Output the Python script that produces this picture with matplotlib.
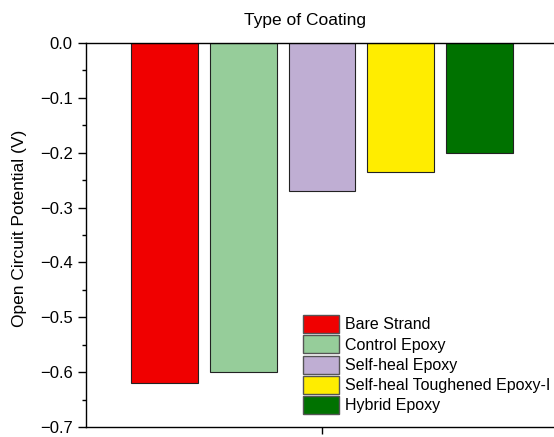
import numpy as np
import matplotlib.pyplot as plt
from matplotlib.ticker import MultipleLocator
from matplotlib.patches import Patch

plt.rcParams['font.family'] = ['Liberation Sans', 'DejaVu Sans']

coatings = ["Bare Strand", "Control Epoxy", "Self-heal Epoxy",
            "Self-heal Toughened Epoxy-I", "Hybrid Epoxy"]
ocp = [-0.62, -0.60, -0.27, -0.235, -0.20]
colors = ["#F00000", "#96CD9A", "#BFAED3", "#FFED00", "#007200"]

fig = plt.figure(figsize=(5.54, 4.37), dpi=100)
# axes run a little past the right edge of the figure
ax = fig.add_axes([0.1552, 0.0229, 0.852, 0.8787])

x = np.arange(1, len(ocp) + 1)
ax.bar(x, ocp, width=0.85, color=colors, edgecolor="#222222", linewidth=0.8)

ax.set_xlim(0, 6)
ax.set_ylim(-0.7, 0.0)
ax.yaxis.set_major_locator(MultipleLocator(0.1))
ax.yaxis.set_minor_locator(MultipleLocator(0.05))
ax.set_xticks([3])
ax.set_xticklabels([""])
ax.tick_params(axis="y", which="major", direction="out", length=6, width=1,
               labelsize=12, pad=3.5)
ax.tick_params(axis="y", which="minor", direction="out", length=3, width=1)
ax.tick_params(axis="x", direction="out", length=5, width=1)
ax.yaxis.set_major_formatter(plt.FuncFormatter(lambda v, p: f"{v:.1f}".replace("-", "\u2212")))
for s in ax.spines.values():
    s.set_linewidth(1.0)

fig.text(20 / 554, 1 - 228 / 437, "Open Circuit Potential (V)", rotation=90,
         ha="center", va="center", fontsize=12.5)
fig.text(305 / 554, 1 - 20 / 437, "Type of Coating", ha="center", va="center",
         fontsize=12.5)

handles = [Patch(facecolor=c, edgecolor="#555555", linewidth=1) for c in colors]
ax.legend(handles, coatings, loc="upper left",
          bbox_to_anchor=(303 / 554, 1 - 315 / 437), bbox_transform=fig.transFigure,
          frameon=False, fontsize=11.5, handlelength=2.25, handleheight=1.357,
          handletextpad=0.35, labelspacing=0.143, borderpad=0, borderaxespad=0)

fig.savefig("out.png", dpi=100)
